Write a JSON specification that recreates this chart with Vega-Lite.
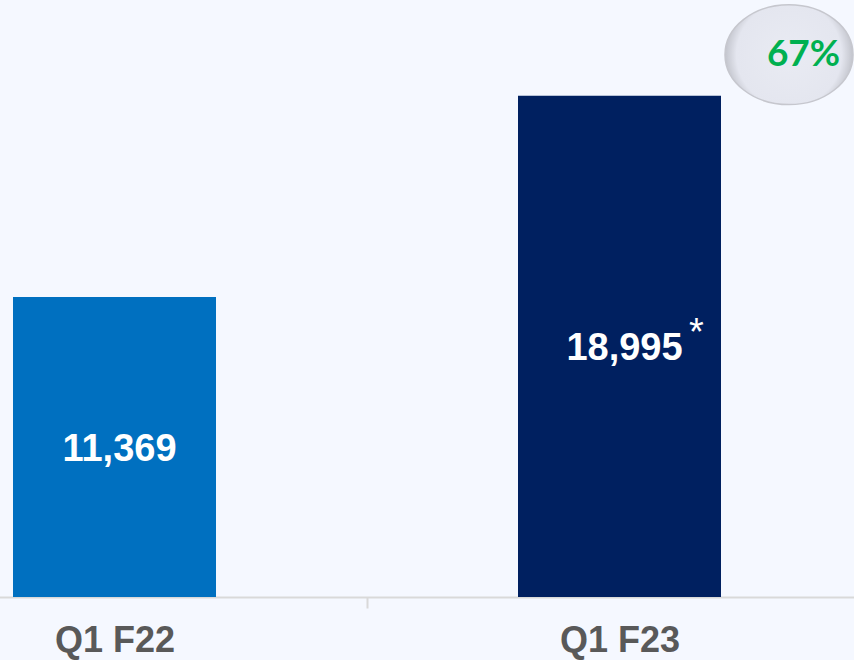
{
  "$schema": "https://vega.github.io/schema/vega-lite/v6.json",
  "width": 854,
  "height": 597,
  "autosize": "none",
  "padding": {"left": 0, "top": 0, "right": 0, "bottom": 63},
  "background": "#F5F8FF",
  "config": {"view": {"stroke": null, "fill": "#F5F8FF"}},
  "data": {
    "values": [
      {"period": "Q1 F22", "value": 11369, "label": "11,369", "note": "", "growth": ""},
      {"period": "Q1 F23", "value": 18995, "label": "18,995", "note": "*", "growth": "67%"}
    ]
  },
  "encoding": {
    "x": {
      "field": "period",
      "type": "nominal",
      "sort": null,
      "scale": {"range": [-138, 872], "paddingInner": 0, "paddingOuter": 0},
      "axis": {
        "title": null,
        "labelAngle": 0,
        "labelFont": "Liberation Sans",
        "labelFontSize": 36,
        "labelFontWeight": "bold",
        "labelColor": "#595959",
        "labelPadding": 15,
        "tickBand": "extent",
        "tickSize": 11,
        "tickWidth": 2,
        "tickColor": "#D9D9D9",
        "domainColor": "#D9D9D9",
        "domainWidth": 2
      }
    }
  },
  "layer": [
    {
      "mark": {"type": "bar", "width": 203},
      "encoding": {
        "y": {
          "field": "value",
          "type": "quantitative",
          "scale": {"domain": [0, 22620], "nice": false, "zero": true},
          "axis": null
        },
        "color": {
          "field": "period",
          "type": "nominal",
          "scale": {"domain": ["Q1 F22", "Q1 F23"], "range": ["#0070C0", "#002060"]},
          "legend": null
        }
      }
    },
    {
      "transform": [{"calculate": "datum.value / 2", "as": "mid"}],
      "mark": {"type": "text", "font": "Liberation Sans", "fontSize": 38, "fontWeight": "bold", "color": "white", "baseline": "middle", "dx": 5, "dy": 3},
      "encoding": {
        "y": {"field": "mid", "type": "quantitative"},
        "text": {"field": "label"}
      }
    },
    {
      "transform": [{"calculate": "datum.value / 2", "as": "mid"}],
      "mark": {"type": "text", "font": "Liberation Sans", "fontSize": 38, "color": "white", "baseline": "middle", "dx": 77, "dy": -12},
      "encoding": {
        "y": {"field": "mid", "type": "quantitative"},
        "text": {"field": "note"}
      }
    },
    {
      "transform": [{"filter": "datum.growth != ''"}],
      "mark": {
        "type": "point",
        "filled": true,
        "shape": "M-1,0A1,0.78,0,1,1,1,0A1,0.78,0,1,1,-1,0Z",
        "size": 16384,
        "opacity": 1,
        "fill": {
          "gradient": "radial",
          "x1": 0.5, "y1": 0.5, "r1": 0,
          "x2": 0.5, "y2": 0.5, "r2": 0.5,
          "stops": [
            {"offset": 0, "color": "#E9EBF3"},
            {"offset": 0.82, "color": "#E4E6EF"},
            {"offset": 1, "color": "#C2C4CC"}
          ]
        },
        "stroke": "#C6C7CE",
        "strokeWidth": 1.5
      },
      "encoding": {
        "y": {"field": "value", "type": "quantitative"},
        "xOffset": {"value": 422},
        "yOffset": {"value": -41}
      }
    },
    {
      "transform": [{"filter": "datum.growth != ''"}],
      "mark": {"type": "text", "font": "Lato", "fontSize": 37, "fontWeight": "bold", "color": "#00B050", "baseline": "middle", "align": "center", "dx": 184, "dy": -41},
      "encoding": {
        "y": {"field": "value", "type": "quantitative"},
        "text": {"field": "growth"}
      }
    }
  ]
}
